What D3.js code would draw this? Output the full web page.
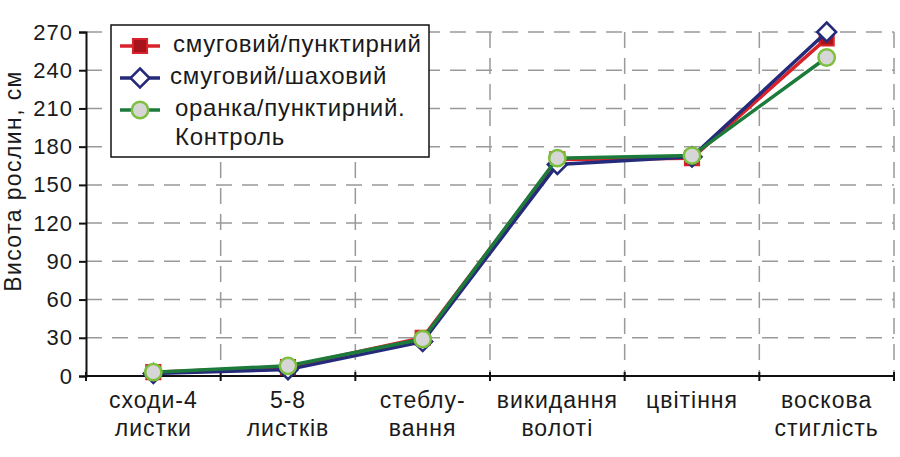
<!DOCTYPE html>
<html>
<head>
<meta charset="utf-8">
<script src="https://cdn.jsdelivr.net/npm/d3@7"></script>
<style>
  body { margin: 0; background: #fff; }
  svg { display: block; font-family: "Liberation Sans", Arial, sans-serif; }
</style>
</head>
<body>
<svg id="chart" width="900" height="457"></svg>
<script>
// дані
var stages = [["сходи-4", "листки"], ["5-8", "листків"], ["стеблу-", "вання"], ["викидання", "волоті"], ["цвітіння"], ["воскова", "стиглість"]];
var yTicks = [0, 30, 60, 90, 120, 150, 180, 210, 240, 270];
var seriesNames = ["смуговий/пунктирний", "смуговий/шаховий", "оранка/пунктирний.", "Контроль"];
var redValues = [3, 7, 30, 170, 171, 265];
var blueValues = [2, 5, 27, 166, 172, 270];
var greenValues = [3, 8, 29, 171, 173, 250];

var svg = d3.select("#chart");
var m = {left: 86, right: 894, top: 32, bottom: 376};

var x = d3.scaleBand().domain(d3.range(stages.length)).range([m.left, m.right]);
var y = d3.scaleLinear().domain([0, 270]).range([m.bottom, m.top]);

// сітка
var grid = svg.append("g").attr("stroke", "#999").attr("stroke-width", 1.5).attr("stroke-dasharray", "16,10");
grid.selectAll(".h").data(yTicks.slice(1)).enter().append("line")
    .attr("x1", m.left).attr("x2", m.right)
    .attr("y1", function (d) { return y(d); }).attr("y2", function (d) { return y(d); });
grid.selectAll(".v").data(d3.range(1, stages.length + 1)).enter().append("line")
    .attr("x1", function (i) { return m.left + i * x.step(); })
    .attr("x2", function (i) { return m.left + i * x.step(); })
    .attr("y1", m.top).attr("y2", m.bottom);

// вісь Y
var yAxis = svg.append("g").attr("transform", "translate(" + m.left + ",0)")
    .call(d3.axisLeft(y).tickValues(yTicks).tickSize(7).tickPadding(6));
yAxis.attr("font-size", null).attr("font-family", null);
yAxis.select(".domain").attr("stroke", "#111").attr("stroke-width", 2);
yAxis.selectAll(".tick line").attr("stroke", "#111").attr("stroke-width", 2);
yAxis.selectAll("text").style("font-size", "22px").style("letter-spacing", "1px").attr("fill", "#1a1a1a");

// вісь X
var xAxisG = svg.append("g").attr("transform", "translate(0," + m.bottom + ")");
xAxisG.append("line").attr("x1", m.left).attr("x2", m.right).attr("stroke", "#111").attr("stroke-width", 2);
xAxisG.selectAll(".t").data(d3.range(0, stages.length + 1)).enter().append("line")
    .attr("x1", function (i) { return m.left + i * x.step(); })
    .attr("x2", function (i) { return m.left + i * x.step(); })
    .attr("y1", -4).attr("y2", 5).attr("stroke", "#111").attr("stroke-width", 2);
xAxisG.selectAll(".lbl").data(stages).enter().append("text")
    .attr("text-anchor", "middle").style("font-size", "23px").style("letter-spacing", "1px").attr("fill", "#1a1a1a")
    .attr("x", function (d, i) { return x(i) + x.bandwidth() / 2; })
    .selectAll("tspan").data(function (d) { return d; }).enter().append("tspan")
    .attr("x", function () { return d3.select(this.parentNode).attr("x"); })
    .attr("y", function (d, j) { return 32 + j * 28; })
    .text(function (d) { return d; });

// підпис осі Y
svg.append("text").attr("transform", "translate(21,181) rotate(-90)")
    .attr("text-anchor", "middle").style("font-size", "23px").style("letter-spacing", "1.4px").attr("fill", "#1a1a1a")
    .text("Висота рослин, см");

var cx = function (d, i) { return x(i) + x.bandwidth() / 2; };
var line = d3.line().x(cx).y(function (d) { return y(d); });

function drawSeries(vals, color, marker) {
    var g = svg.append("g");
    g.append("path").datum(vals).attr("d", line).attr("fill", "none")
        .attr("stroke", color).attr("stroke-width", 3.5);
    g.selectAll("path.m").data(vals).enter().append("path").attr("class", "m")
        .attr("transform", function (d, i) { return "translate(" + cx(d, i) + "," + y(d) + ")"; })
        .attr("d", marker.d).attr("fill", marker.fill).attr("stroke", marker.stroke).attr("stroke-width", marker.sw);
}

var sq = {d: d3.symbol(d3.symbolSquare, 200)(), fill: "#a8121a", stroke: "#d8232a", sw: 2};
var dia = {d: "M0,-9.5L9.5,0L0,9.5L-9.5,0Z", fill: "#fff", stroke: "#252a7a", sw: 2.5};
var circ = {d: d3.symbol(d3.symbolCircle, 210)(), fill: "#d6d6d6", stroke: "#7dbf3f", sw: 2.5};

drawSeries(redValues, "#d8232a", sq);
drawSeries(blueValues, "#252a7a", dia);
drawSeries(greenValues, "#1c7a3a", circ);

// легенда
var lg = svg.append("g");
lg.append("rect").attr("x", 111).attr("y", 25).attr("width", 318).attr("height", 132)
    .attr("fill", "#fff").attr("stroke", "#111").attr("stroke-width", 1.5);
var legendItems = [
    {c: "#d8232a", mk: sq, ty: 46, tx: 173, txt: [seriesNames[0]]},
    {c: "#252a7a", mk: dia, ty: 78, tx: 170, txt: [seriesNames[1]]},
    {c: "#1c7a3a", mk: circ, ty: 110, tx: 175, txt: [seriesNames[2], seriesNames[3]]}
];
legendItems.forEach(function (it) {
    lg.append("line").attr("x1", 120).attr("x2", 160).attr("y1", it.ty).attr("y2", it.ty)
        .attr("stroke", it.c).attr("stroke-width", 3.5);
    lg.append("path").attr("transform", "translate(140," + it.ty + ")").attr("d", it.mk.d)
        .attr("fill", it.mk.fill).attr("stroke", it.mk.stroke).attr("stroke-width", it.mk.sw);
    var t = lg.append("text").style("font-size", "24px").style("letter-spacing", "0.7px").attr("fill", "#1a1a1a");
    it.txt.forEach(function (s, j) {
        t.append("tspan").attr("x", it.tx).attr("y", it.ty + 6 + j * 29).text(s);
    });
});
</script>
</body>
</html>
